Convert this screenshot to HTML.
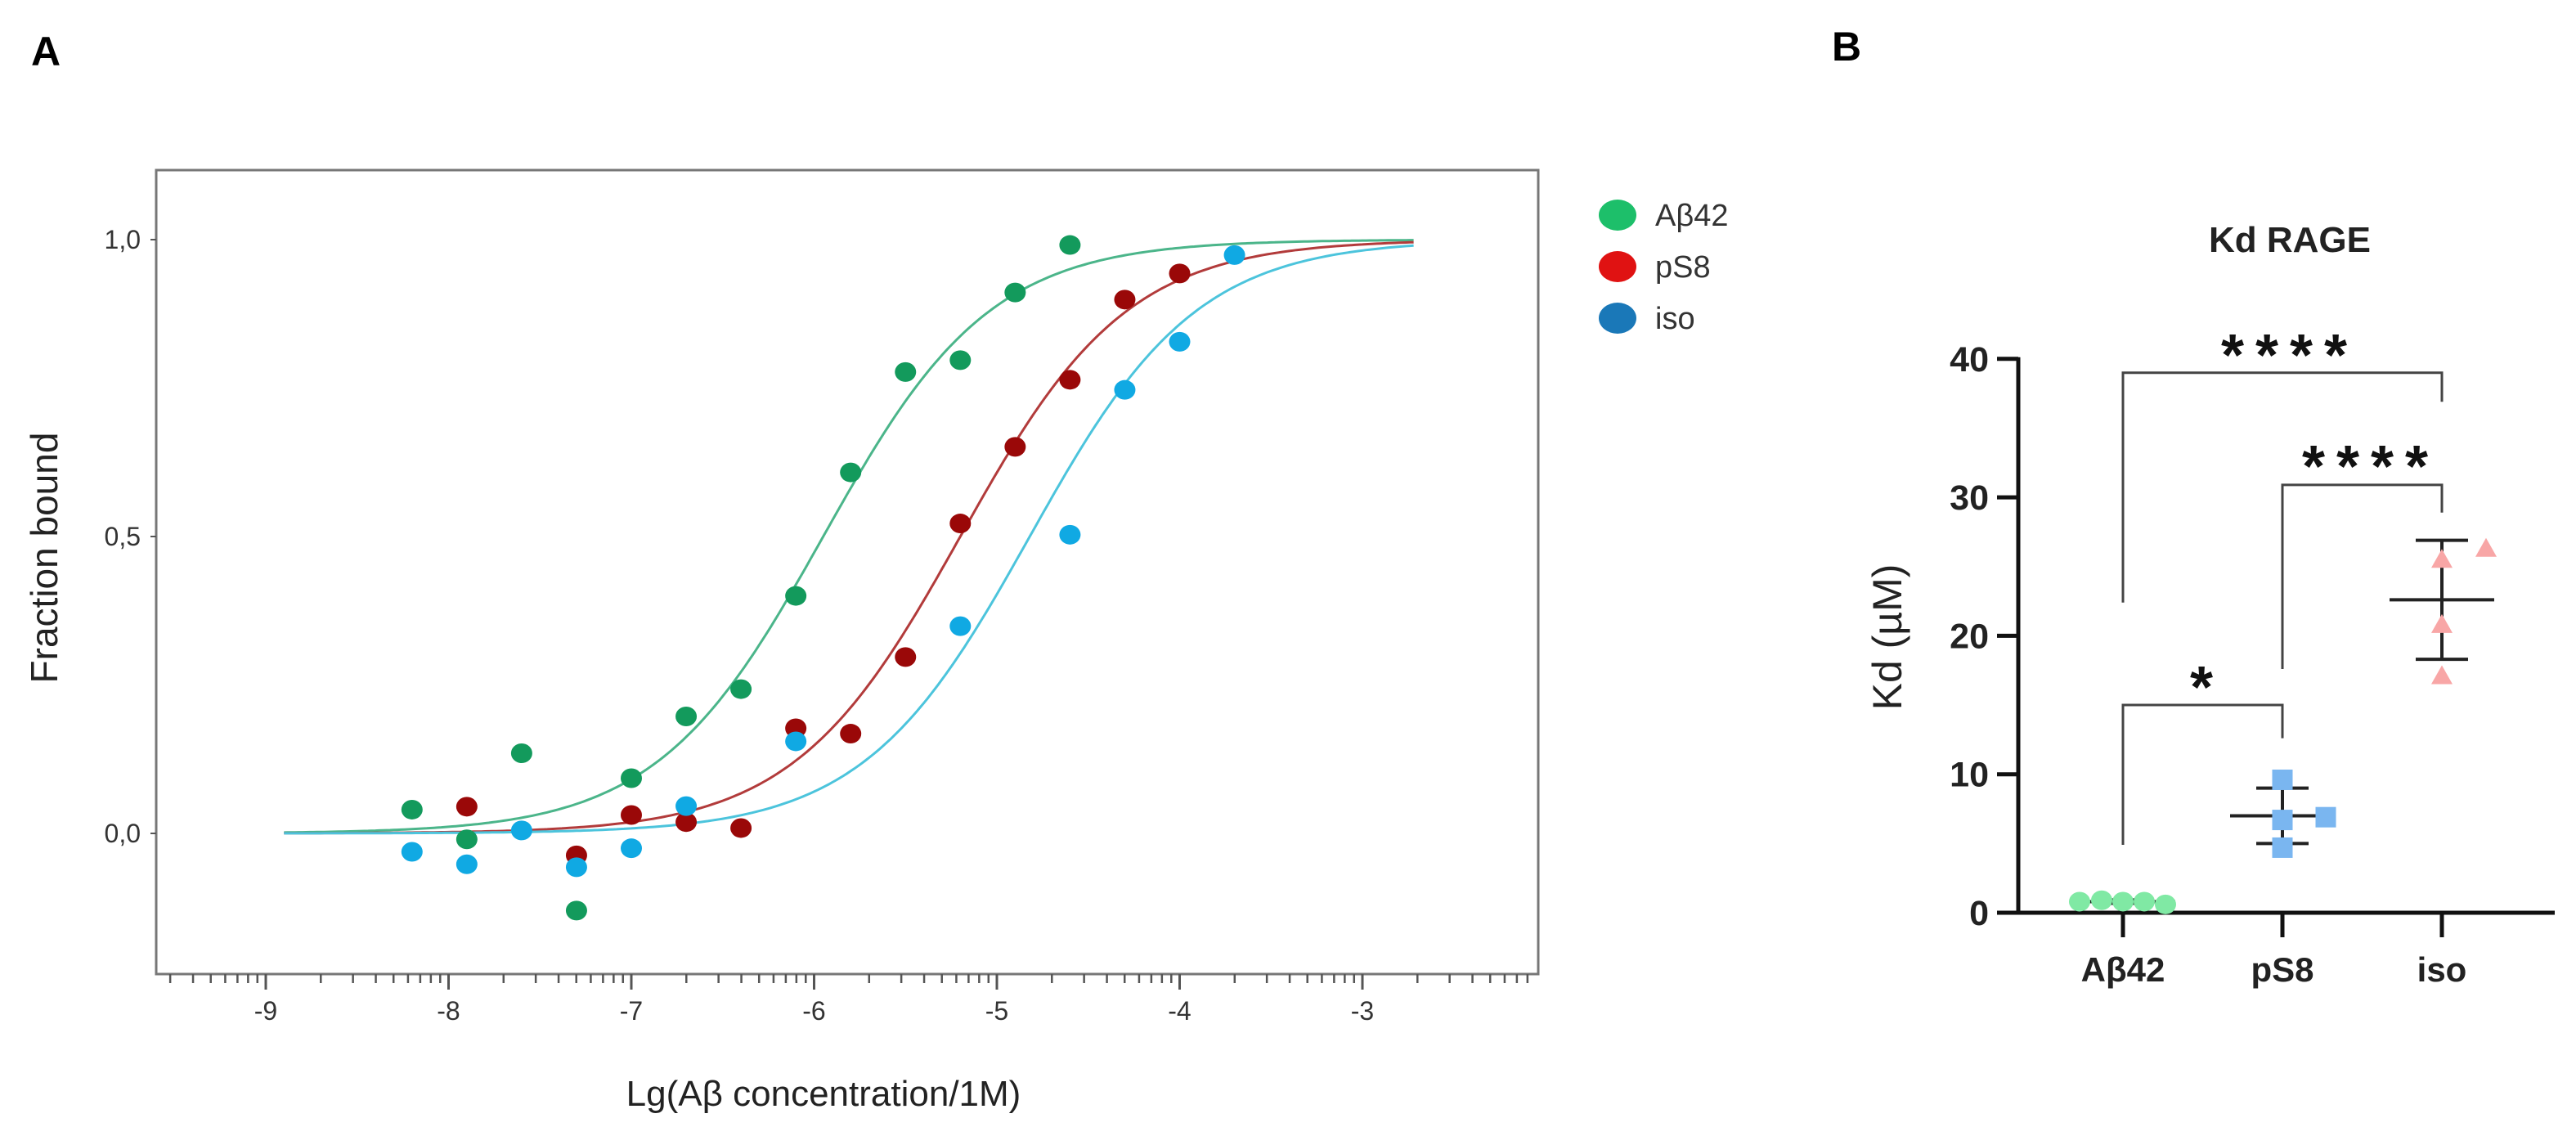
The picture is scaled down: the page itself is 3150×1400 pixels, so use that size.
<!DOCTYPE html>
<html><head><meta charset="utf-8"><style>
html,body{margin:0;padding:0;background:#fff;}
svg{display:block;font-family:"Liberation Sans",sans-serif;}
</style></head><body>
<svg id="fig" width="3150" height="1400" viewBox="0 0 3150 1400" xmlns="http://www.w3.org/2000/svg">
<rect width="3150" height="1400" fill="#fff"/>
<text x="38" y="80" font-size="50" font-weight="bold">A</text>
<text x="2240" y="74" font-size="50" font-weight="bold">B</text>
<g id="A"></g>
<g id="B"></g>
</svg>
<script>
// ---- Panel A data ----
const xsGreen=[-8.2,-7.9,-7.6,-7.3,-7.0,-6.7,-6.4,-6.1,-5.8,-5.5,-5.2,-4.9,-4.6];
const ysGreen=[0.04,-0.01,0.135,-0.13,0.093,0.197,0.243,0.40,0.608,0.777,0.797,0.911,0.991];
const xsRed=[-7.9,-7.3,-7.0,-6.7,-6.4,-6.1,-5.8,-5.5,-5.2,-4.9,-4.6,-4.3,-4.0];
const ysRed=[0.045,-0.037,0.031,0.019,0.009,0.177,0.168,0.297,0.522,0.651,0.764,0.899,0.943];
const xsBlue=[-8.2,-7.9,-7.6,-7.3,-7.0,-6.7,-6.1,-5.2,-4.6,-4.3,-4.0,-3.7];
const ysBlue=[-0.031,-0.052,0.005,-0.057,-0.025,0.046,0.155,0.349,0.503,0.747,0.828,0.974];
const fitCenters=[-5.95,-5.2,-4.82];
const fitSlopes=[0.95,0.95,0.95];
const xTickLabels=[-9,-8,-7,-6,-5,-4,-3];
const yTickValues=[0,0.5,1.0];
const yTickLabels=["0,0","0,5","1,0"];
const legendLabels=["Aβ42","pS8","iso"];
// ---- Panel B data ----
const catLabels=["Aβ42","pS8","iso"];
const kdAb42=[0.8,0.9,0.8,0.8,0.6];
const kdPS8=[9.6,6.7,6.9,4.7];
const kdIso=[25.5,26.3,20.8,17.1];
const kdMeans=[0.8,7.0,22.6];
const kdSDs=[0.12,2.0,4.3];
const bTicks=[0,10,20,30,40];
const sigLabels=["****","****","*"];

const NS="http://www.w3.org/2000/svg";
function mk(p,tag,at,txt){const e=document.createElementNS(NS,tag);for(const k in at)e.setAttribute(k,at[k]);if(txt!==undefined)e.textContent=txt;p.appendChild(e);return e;}

// Panel A
const A=document.getElementById('A');
const ax=v=>325+(v+9)*223.5;
const ay=v=>1019-v*726;
let e=mk(A,'rect',{x:191,y:208,width:1690,height:983,fill:'none',stroke:'#777','stroke-width':3});


for(let d=-10;d<=-2;d++){for(let k=1;k<10;k++){const v=d+Math.log10(k);const px=ax(v);if(px<193||px>1879)continue;
 const t=mk(A,'line',{x1:px,x2:px,y1:1191,y2:k===1?1210:1202,stroke:'#555','stroke-width':k===1?3:2.5});
 
 }}
xTickLabels.forEach(v=>{const t=mk(A,'text',{x:ax(v),y:1247,'font-size':32,'text-anchor':'middle',fill:'#333'},String(v));
 
 });
yTickValues.forEach((v,i)=>{const t=mk(A,'text',{x:172,y:ay(v)+11,'font-size':32,'text-anchor':'end',fill:'#333'},yTickLabels[i]);
 
 
 const l=mk(A,'line',{x1:184,x2:191,y1:ay(v),y2:ay(v),stroke:'#555','stroke-width':2});
 
 });
e=mk(A,'text',{x:0,y:0,'font-size':46,'text-anchor':'middle',fill:'#222',transform:'translate(70,682) rotate(-90)'},'Fraction bound');


e=mk(A,'text',{x:1007,y:1352,'font-size':44,'text-anchor':'middle',fill:'#222'},'Lg(Aβ concentration/1M)');


const curveCols=['#4bb58a','#b23b3b','#4cc4dc'];
const dotCols=['#139a5c','#9a0808','#10a9e3'];
const names=['ab42','ps8','iso'];
fitCenters.forEach((c,i)=>{let d='';for(let x=-8.9;x<=-2.7001;x+=0.02){const y=1/(1+Math.pow(10,fitSlopes[i]*(c-x)));d+=(d?'L':'M')+ax(x).toFixed(1)+','+ay(y).toFixed(1);}
 const p=mk(A,'path',{d:d,fill:'none',stroke:curveCols[i],'stroke-width':3});
 
 });
[[xsGreen,ysGreen],[xsRed,ysRed],[xsBlue,ysBlue]].forEach((s,i)=>{s[0].forEach((x,j)=>{
 const c=mk(A,'ellipse',{cx:ax(x),cy:ay(s[1][j]),rx:13,ry:12,fill:dotCols[i]});
 
 });});
const legCols=['#1dbf6a','#e01212','#1a78b8'];
legendLabels.forEach((l,i)=>{const y=263+i*63;
 const c=mk(A,'ellipse',{cx:1978,cy:y,rx:23,ry:19,fill:legCols[i]});
 
 
 const t=mk(A,'text',{x:2024,y:y+13,'font-size':38,fill:'#333'},l);
 
 });

// Panel B
const B=document.getElementById('B');
const by=v=>1116-v*16.93;
const catX=[2596,2791,2986];
e=mk(B,'line',{x1:2468,x2:2468,y1:by(40)-2,y2:by(0)+2,stroke:'#111','stroke-width':5});


e=mk(B,'line',{x1:2442,x2:3124,y1:by(0),y2:by(0),stroke:'#111','stroke-width':5});


bTicks.forEach(v=>{const l=mk(B,'line',{x1:2442,x2:2468,y1:by(v),y2:by(v),stroke:'#111','stroke-width':5});
 
 
 const t=mk(B,'text',{x:2432,y:by(v)+15,'font-size':43,'font-weight':'bold','text-anchor':'end',fill:'#222'},String(v));
 
 });
catLabels.forEach((l,i)=>{const t=mk(B,'line',{x1:catX[i],x2:catX[i],y1:by(0),y2:1146,stroke:'#111','stroke-width':5});
 
 
 const x=mk(B,'text',{x:catX[i],y:1200,'font-size':42,'font-weight':'bold','text-anchor':'middle',fill:'#222'},l);
 
 });
e=mk(B,'text',{x:0,y:0,'font-size':50,'text-anchor':'middle',fill:'#222',transform:'translate(2325,779) rotate(-90)'},'Kd (µM)');


e=mk(B,'text',{x:2800,y:308,'font-size':44,'font-weight':'bold','text-anchor':'middle',fill:'#222'},'Kd RAGE');


// brackets: [from, to, level, leftArmEnd, rightArmEnd, starX, starCenterY]
const brackets=[[0,2,39.0,22.4,36.9,2793,415],[1,2,30.9,17.6,28.9,2892,551],[0,1,15.0,4.9,12.6,2692,821]];
brackets.forEach((b,i)=>{const x1=catX[b[0]],x2=catX[b[1]];
 const p=mk(B,'path',{d:`M${x1},${by(b[3])}V${by(b[2])}H${x2}V${by(b[4])}`,fill:'none',stroke:'#444','stroke-width':3});
 
 
 const t=mk(B,'text',{x:b[5]+(i===2?0:7),y:b[6]+44,'font-size':72,'font-weight':'bold','text-anchor':'middle','letter-spacing':i===2?0:14,fill:'#111'},sigLabels[i]);
 
 });
// mean/sd
kdMeans.forEach((m,i)=>{const x=catX[i];
 const g=mk(B,'path',{d:`M${x-64},${by(m)}H${x+64}M${x},${by(m-kdSDs[i])}V${by(m+kdSDs[i])}M${x-32},${by(m+kdSDs[i])}H${x+32}M${x-32},${by(m-kdSDs[i])}H${x+32}`,fill:'none',stroke:'#222','stroke-width':4});
 
 });
const ab42Off=[-53,-26,0,26,52];
kdAb42.forEach((v,j)=>{const c=mk(B,'ellipse',{cx:catX[0]+ab42Off[j],cy:by(v),rx:13,ry:12,fill:'#80e9a4'});
 
 });
const ps8Off=[0,0,53,0];
kdPS8.forEach((v,j)=>{const s=mk(B,'rect',{x:catX[1]+ps8Off[j]-12.5,y:by(v)-12.5,width:25,height:25,fill:'#7ab6f0'});
 
 });
const isoOff=[0,54,0,0];
kdIso.forEach((v,j)=>{const x=catX[2]+isoOff[j],y=by(v);
 const t=mk(B,'polygon',{points:`${x},${y-13} ${x-13},${y+10} ${x+13},${y+10}`,fill:'#f8a6a6'});
 
 });
</script>
</body></html>
